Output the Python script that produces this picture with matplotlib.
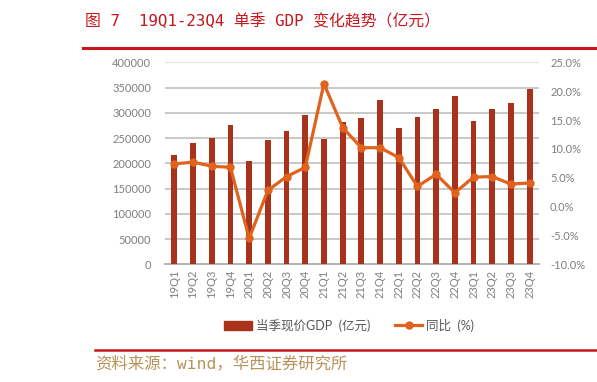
import matplotlib
matplotlib.use("Agg")
import matplotlib.pyplot as plt
import numpy as np
from matplotlib.lines import Line2D

plt.rcParams['font.family'] = ['Lato', 'Noto Sans CJK SC', 'DejaVu Sans']

quarters = ["19Q1", "19Q2", "19Q3", "19Q4", "20Q1", "20Q2", "20Q3", "20Q4",
            "21Q1", "21Q2", "21Q3", "21Q4", "22Q1", "22Q2", "22Q3", "22Q4",
            "23Q1", "23Q2", "23Q3", "23Q4"]
gdp = [216000, 240000, 249500, 275500, 204000, 247000, 264000, 295000,
       248500, 282000, 290000, 325500, 269500, 291000, 307000, 333500,
       284000, 307000, 319000, 347500]
yoy = [7.4, 7.7, 7.0, 6.8, -5.5, 2.8, 5.2, 6.8,
       21.3, 13.7, 10.2, 10.2, 8.5, 3.5, 5.6, 2.4,
       5.1, 5.2, 3.9, 4.1]

bar_color = "#A8331A"
line_color = "#E0621C"
grey = "#7F7F7F"

fig = plt.figure(figsize=(5.97, 3.82), dpi=100)
ax = fig.add_axes([0.2764, 0.3081, 0.6264, 0.5288])
x = np.arange(len(quarters))
ax.bar(x, gdp, width=0.31, color=bar_color, zorder=3)
ax.set_xlim(-0.5, len(quarters) - 0.5)
ax.set_ylim(0, 400000)
ax.set_yticks(np.arange(0, 400001, 50000))
ax.set_yticklabels([f"{v}" for v in range(0, 400001, 50000)])
ax.set_xticks(x)
ax.set_xticklabels(quarters, rotation=90)
for s in ["top", "right", "left"]:
    ax.spines[s].set_visible(False)
ax.spines["bottom"].set_color("#A6A6A6")
ax.spines["bottom"].set_linewidth(1.2)
ax.tick_params(axis="both", length=0, colors=grey, labelsize=8)
ax.tick_params(axis="y", pad=10)
ax.tick_params(axis="x", pad=4)
for v in range(50000, 400001, 50000):
    ax.axhline(v, color="#BFBFBF" if v < 400000 else "#D9D9D9", lw=1.2, zorder=1)

ax2 = ax.twinx()
ax2.plot(x, yoy, color=line_color, lw=2.3, marker="o", markersize=5, zorder=5)
ax2.set_ylim(-10, 25)
ax2.set_yticks(np.arange(-10, 25.1, 5))
ax2.set_yticklabels([f"{v:.1f}%" for v in np.arange(-10, 25.1, 5)])
for s in ["top", "right", "left", "bottom"]:
    ax2.spines[s].set_visible(False)
ax2.tick_params(axis="y", length=0, colors=grey, labelsize=8, pad=8)

handles = [plt.Rectangle((0, 0), 1, 1, color=bar_color),
           Line2D([0], [0], color=line_color, lw=2.3, marker="o", markersize=5)]
fig.legend(handles, ["当季现价GDP  (亿元)", "同比  (%)"], loc="center",
           bbox_to_anchor=(0.585, 0.149), ncol=2, frameon=False,
           labelcolor="#595959", handlelength=2.2, columnspacing=2.0,
           handletextpad=0.3, prop={'family': ['Lato', 'Noto Sans CJK SC'], 'size': 9})

mono_cjk = ['DejaVu Sans Mono', 'Noto Sans CJK SC']
fig.text(0.142, 0.945, "图 7  19Q1-23Q4 单季 GDP 变化趋势（亿元）", color="#C8161D",
         fontsize=11.4, va="center", ha="left", family=mono_cjk, fontweight="light")
fig.add_artist(Line2D([0.139, 1.0], [0.874, 0.874], color="#C8161D", lw=2.2))
fig.add_artist(Line2D([0.159, 1.0], [0.083, 0.083], color="#C8161D", lw=1.8))
fig.text(0.16, 0.048, "资料来源：wind，华西证券研究所", color="#B8925A",
         fontsize=11.8, va="center", ha="left", family=mono_cjk, fontweight="light")

fig.savefig("out.png", dpi=100)
